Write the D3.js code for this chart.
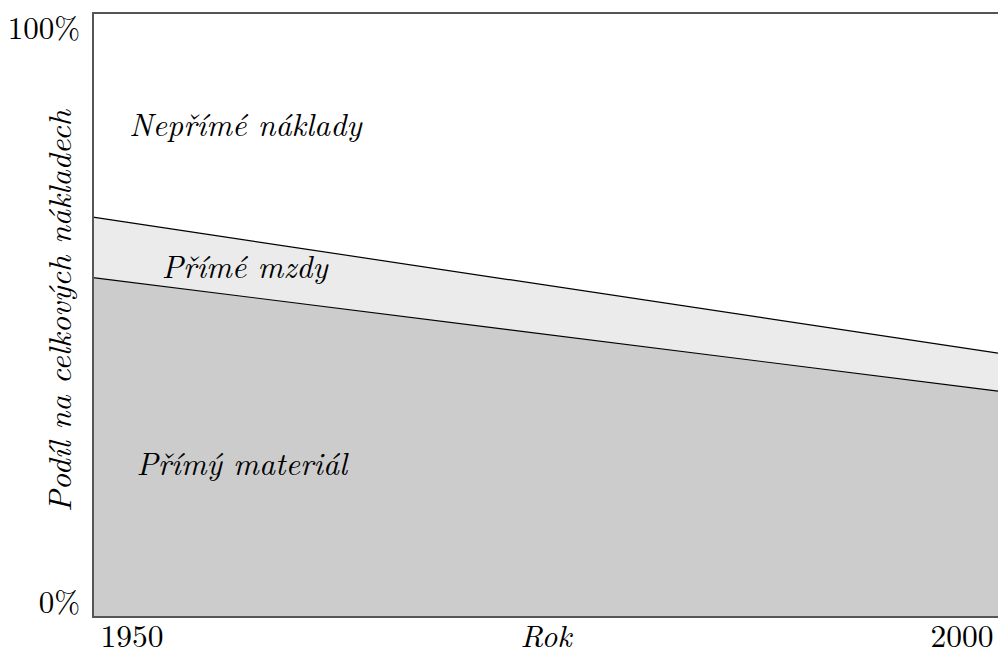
<!DOCTYPE html>
<html>
<head>
<meta charset="utf-8">
<script src="https://cdn.jsdelivr.net/npm/d3@7"></script>
<style>
  html, body { margin: 0; padding: 0; background: #fff; }
  svg { display: block; }
</style>
</head>
<body>
<svg id="chart" width="998" height="655"></svg>
<script>
// ---- data (percent of total cost) ----
const years = [1950, 2000];
const material = [56.2, 37.4];   // Přímý materiál
const wages = [10.0, 6.3];       // Přímé mzdy
const indirect = [33.8, 56.3];   // Nepřímé náklady
const seriesKeys = ["material", "wages", "indirect"];
const seriesLabels = ["Přímý materiál", "Přímé mzdy", "Nepřímé náklady"];
const yTickValues = [0, 100];
const yTickLabels = ["0%", "100%"];
const xTickValues = [1950, 2000];
const xTitle = "Rok";
const yTitle = "Podíl na celkových nákladech";

const FONT = "'Latin Modern Roman', 'Liberation Serif', serif";
const rows = years.map((y, i) => ({ year: y, material: material[i], wages: wages[i], indirect: indirect[i] }));

const W = 998, H = 655;
const m = { left: 93, top: 13, right: 0, bottom: 38 };
const svg = d3.select("#chart");

const x = d3.scaleLinear().domain([1950, 2000]).range([m.left, W - m.right]);
const y = d3.scaleLinear().domain([0, 100]).range([H - m.bottom, m.top]);

const stacked = d3.stack().keys(seriesKeys)(rows);
const fills = { material: "#cccccc", wages: "#ebebeb", indirect: "#ffffff" };

const area = d3.area().x(d => x(d.data.year)).y0(d => y(d[0])).y1(d => y(d[1]));
svg.append("g").selectAll("path").data(stacked).join("path")
  .attr("d", area).attr("fill", d => fills[d.key]).attr("stroke", "none");

const line = d3.line().x(d => x(d.data.year)).y(d => y(d[1]));
svg.append("g").selectAll("path").data(stacked.slice(0, 2)).join("path")
  .attr("d", line).attr("fill", "none").attr("stroke", "#000").attr("stroke-width", 1.2);

// frame: top, left, bottom
svg.append("path").attr("d", `M${W},${y(100)}H${x(1950)}V${y(0)}H${W}`)
  .attr("stroke", "#555").attr("stroke-width", 2).attr("fill", "none");

// y axis
const yAxis = d3.axisLeft(y).tickValues(yTickValues).tickSize(0).tickPadding(13)
  .tickFormat((d, i) => yTickLabels[i]);
const gy = svg.append("g").attr("transform", `translate(${m.left},0)`).call(yAxis);
gy.select(".domain").remove();
gy.selectAll("text").style("font-family", FONT).style("font-size", "31px").attr("fill", "#000")
  .attr("dy", d => d === 100 ? "0.82em" : "-0.15em");

// x axis
const xAxis = d3.axisBottom(x).tickValues(xTickValues).tickSize(0).tickPadding(8).tickFormat(d3.format("d"));
const gx = svg.append("g").attr("transform", `translate(0,${H - m.bottom})`).call(xAxis);
gx.select(".domain").remove();
gx.selectAll("text").style("font-family", FONT).style("font-size", "31.5px").attr("fill", "#000")
  .attr("text-anchor", d => d === 1950 ? "start" : "end")
  .attr("dx", d => d === 1950 ? 7 : -5);

// titles
svg.append("text").attr("x", 546).attr("y", 647).attr("text-anchor", "middle")
  .style("font-family", FONT).style("font-style", "italic").style("font-size", "31px").text(xTitle);
svg.append("text").attr("transform", "translate(71,311) rotate(-90)").attr("text-anchor", "middle")
  .style("font-family", FONT).style("font-style", "italic").style("font-size", "32px").text(yTitle);

// in-area labels
const labelPos = [
  { year: 1952.4, v: 23.5 },
  { year: 1953.8, v: 56.2 },
  { year: 1952.0, v: 79.7 }
];
svg.append("g").selectAll("text").data(seriesLabels).join("text")
  .attr("x", (d, i) => x(labelPos[i].year))
  .attr("y", (d, i) => y(labelPos[i].v))
  .style("font-family", FONT).style("font-style", "italic").style("font-size", "31.5px")
  .text(d => d);
</script>
</body>
</html>
